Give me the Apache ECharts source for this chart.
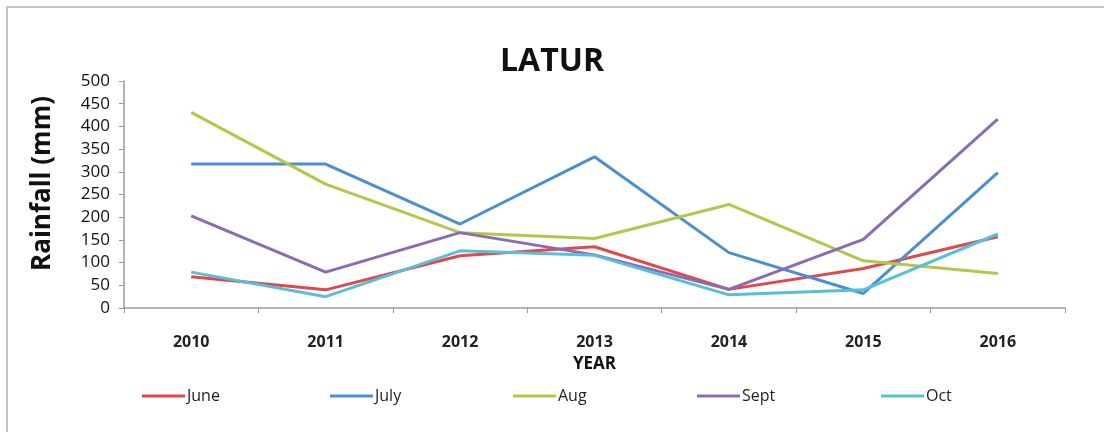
<!DOCTYPE html>
<html>
<head>
<meta charset="utf-8">
<script src="https://cdn.jsdelivr.net/npm/echarts@6/dist/echarts.min.js"></script>
<style>
  html, body { margin: 0; padding: 0; background: #fff; }
  #chart-container { width: 1104px; height: 432px; }
</style>
</head>
<body>
<div id="chart-container"></div>
<script>
var dom = document.getElementById('chart-container');
var myChart = echarts.init(dom, null, { renderer: 'canvas' });

var years = ['2010', '2011', '2012', '2013', '2014', '2015', '2016'];
var june = [69, 40, 115, 135, 41, 87, 157];
var july = [317, 317, 185, 333, 122, 32, 298];
var aug = [431, 273, 166, 153, 228, 104, 76];
var sept = [203, 79, 166, 117, 41, 151, 416];
var oct = [79, 25, 126, 116, 29, 40, 163];

var names = ['June', 'July', 'Aug', 'Sept', 'Oct'];
var values = [june, july, aug, sept, oct];
var colors = ['#E0494B', '#4A8FD0', '#B3C84B', '#8A6CB4', '#58BFD8'];
var legendLeft = [142, 330, 513, 697, 881];

var font = '"Open Sans", "Liberation Sans", sans-serif';

var series = names.map(function (n, i) {
    return {
        name: n,
        type: 'line',
        data: values[i],
        showSymbol: false,
        symbol: 'none',
        lineStyle: { width: 3, color: colors[i] },
        itemStyle: { color: colors[i] }
    };
});

// one legend per item so they sit at even spacing like the original
var legends = names.map(function (n, i) {
    return {
        data: [n],
        left: legendLeft[i],
        top: 388,
        padding: 0,
        itemWidth: 43,
        itemHeight: 3,
        icon: 'rect',
        textStyle: { fontFamily: font, fontSize: 16, color: '#222', padding: [0, 0, 0, -3] }
    };
});

var option = {
    animation: false,
    title: {
        text: 'LATUR',
        left: 'center',
        top: 41,
        textStyle: { fontFamily: font, fontSize: 32, fontWeight: 'bold', color: '#111' }
    },
    legend: legends,
    grid: { left: 124, right: 39, top: 81, bottom: 124 },
    xAxis: {
        type: 'category',
        data: years,
        boundaryGap: true,
        name: 'YEAR',
        nameLocation: 'middle',
        nameGap: 48,
        nameTextStyle: { fontFamily: font, fontSize: 17, fontWeight: 'bold', color: '#111' },
        axisLine: { lineStyle: { color: '#9a9a9a', width: 1.5 } },
        axisTick: { show: true, length: 5, lineStyle: { color: '#9a9a9a' } },
        axisLabel: { margin: 26, fontFamily: font, fontSize: 16, fontWeight: 'bold', color: '#222' },
        splitLine: { show: false }
    },
    yAxis: {
        type: 'value',
        min: 0,
        max: 500,
        interval: 50,
        name: 'Rainfall (mm)',
        nameLocation: 'middle',
        nameGap: 68,
        nameTextStyle: { fontFamily: font, fontSize: 26, fontWeight: 'bold', color: '#111', padding: [0, 0, 0, 22] },
        axisLine: { show: true, lineStyle: { color: '#9a9a9a', width: 1.5 } },
        axisTick: { show: true, length: 5, lineStyle: { color: '#9a9a9a' } },
        axisLabel: { margin: 14, fontFamily: font, fontSize: 17, color: '#111' },
        splitLine: { show: false }
    },
    graphic: [{
        type: 'rect',
        shape: { x: 7, y: 7, width: 1200, height: 600 },
        style: { fill: 'none', stroke: '#c4c4c4', lineWidth: 2 },
        silent: true
    }],
    series: series
};

myChart.setOption(option);
window.addEventListener('resize', myChart.resize);
</script>
</body>
</html>
